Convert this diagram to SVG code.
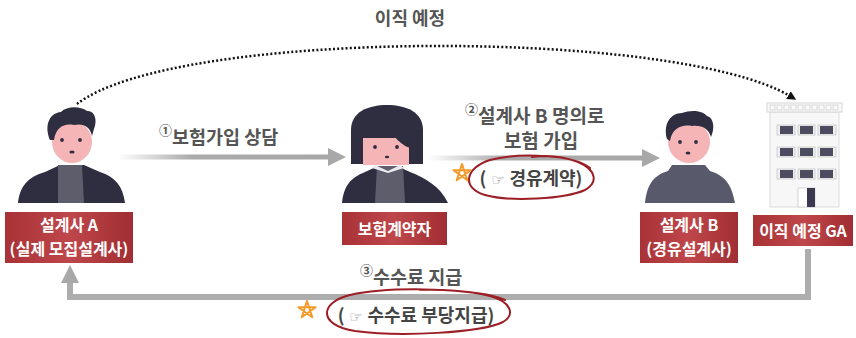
<svg xmlns="http://www.w3.org/2000/svg" width="856" height="338" viewBox="0 0 856 338">
  <style>
    .lbl { font-family: "Noto Sans CJK KR", "Noto Sans", sans-serif; font-weight: bold; fill: #555; }
    .box-t { font-family: "Noto Sans CJK KR", "Noto Sans", sans-serif; font-weight: bold; fill: #fff; font-size: 16px; text-anchor: middle; }
    .note { font-family: "Noto Sans CJK KR", "Noto Sans", sans-serif; font-weight: bold; fill: #444; font-size: 18px; text-anchor: middle; }
    .hand { font-family: "DejaVu Sans", sans-serif; font-weight: normal; fill: #888; font-size: 15px; }
    .num { font-size: 13px; }
    .dark { fill: #2f2e41; }
    .skin { fill: #f5b5b7; }
    .shirt { fill: #5e5d6c; }
    .ring { fill: none; stroke: #9c1f26; stroke-width: 2; stroke-linecap: round; }
    .star { fill: none; stroke: #f39a2a; stroke-width: 2; stroke-linejoin: round; }
    .flow { fill: none; stroke-width: 5; }
    .back { fill: none; stroke: #adadad; stroke-width: 6; stroke-linejoin: miter; }
  </style>
  <defs>
    <linearGradient id="boxFill" x1="0" y1="0" x2="1" y2="0">
      <stop offset="0" stop-color="#a83236"/>
      <stop offset="0.5" stop-color="#bf474b"/>
      <stop offset="1" stop-color="#a02e32"/>
    </linearGradient>
    <linearGradient id="fade1" gradientUnits="userSpaceOnUse" x1="118" y1="0" x2="330" y2="0">
      <stop offset="0" stop-color="#ffffff"/>
      <stop offset="0.35" stop-color="#aaaaaa"/>
      <stop offset="1" stop-color="#a8a8a8"/>
    </linearGradient>
    <linearGradient id="fade2" gradientUnits="userSpaceOnUse" x1="428" y1="0" x2="644" y2="0">
      <stop offset="0" stop-color="#ffffff"/>
      <stop offset="0.35" stop-color="#aaaaaa"/>
      <stop offset="1" stop-color="#a8a8a8"/>
    </linearGradient>
    <marker id="greyHead" viewBox="0 0 10 10" refX="0" refY="5" markerUnits="userSpaceOnUse" markerWidth="18" markerHeight="18" orient="auto">
      <path d="M0,0 L10,5 L0,10 Z" fill="#a8a8a8"/>
    </marker>
    <marker id="dotHead" viewBox="0 0 10 10" refX="2" refY="5" markerUnits="userSpaceOnUse" markerWidth="9" markerHeight="9" orient="auto">
      <path d="M0,0 L10,5 L0,10 Z" fill="#111"/>
    </marker>
  </defs>

  <rect width="856" height="338" fill="#ffffff"/>

  <!-- connectors -->
  <g id="connectors">
    <path d="M77,104 C175,28 675,28 790,96" fill="none" stroke="#111" stroke-width="2.5" stroke-dasharray="2 2.2" marker-end="url(#dotHead)"/>
    <line class="flow" x1="118" y1="157" x2="328" y2="157" stroke="url(#fade1)" marker-end="url(#greyHead)"/>
    <line class="flow" x1="428" y1="158" x2="642" y2="158" stroke="url(#fade2)" marker-end="url(#greyHead)"/>
    <polyline class="back" points="808,249 808,297 70,297 70,283" marker-end="url(#greyHead)"/>
  </g>

  <!-- connector labels -->
  <g id="labels">
    <text class="lbl" x="410" y="25" font-size="18" text-anchor="middle" fill="#666">이직 예정</text>
    <text class="lbl" x="159" y="144" font-size="18.5"><tspan class="num" dy="-9">①</tspan><tspan dy="9">보험가입 상담</tspan></text>
    <text class="lbl" x="465" y="123" font-size="19"><tspan class="num" dy="-9">②</tspan><tspan dy="9">설계사 B 명의로</tspan></text>
    <text class="lbl" x="541" y="148" font-size="19" text-anchor="middle">보험 가입</text>
    <text class="lbl" x="360" y="284" font-size="18.5"><tspan class="num" dy="-9">③</tspan><tspan dy="9">수수료 지급</tspan></text>
  </g>

  <!-- circled remarks -->
  <g id="note-detour">
    <path class="ring" d="M590,168 C575,155 520,152 490,160 C465,168 461,188 485,195 C510,202 565,199 585,190 C598,183 597,170 578,162 C562,156 545,155 532,157"/>
    <path class="star" d="M462,164 L467.3,180.3 L453.4,170.2 L470.6,170.2 L456.7,180.3 Z"/>
    <text class="note" x="531" y="185">(<tspan class="hand"> ☞ </tspan>경유계약)</text>
  </g>
  <g id="note-fee">
    <path class="ring" d="M505,300 C480,288 390,286 350,295 C320,302 317,325 355,331 C400,337 480,333 503,322 C515,315 512,302 490,296 C470,291 440,289 420,290"/>
    <path class="star" d="M307,301 L312.3,317.3 L298.4,307.2 L315.6,307.2 L301.7,317.3 Z"/>
    <text class="note" x="416" y="322">(<tspan class="hand"> ☞ </tspan>수수료 부당지급)</text>
  </g>

  <!-- recruiting planner A -->
  <g id="planner-a">
    <path class="dark" d="M18,203 C20,186 28,177 45,172 L60,165 L84,165 L100,172 C115,177 123,186 125,203 Z"/>
    <path class="shirt" d="M58,165 L82,165 L84,203 L58,203 Z"/>
    <ellipse class="skin" cx="72" cy="142" rx="20" ry="21"/>
    <path class="dark" d="M50,140 C44,126 49,113 61,112 C67,106 80,106 87,111 C94,110 98,119 94,129 L92,136 C90,127 84,123 74,125 C64,123 56,127 54,140 Z"/>
    <circle class="dark" cx="62" cy="140" r="1.9"/>
    <circle class="dark" cx="80" cy="140" r="1.9"/>
    <ellipse class="dark" cx="72" cy="152" rx="2.6" ry="1.6"/>
    <rect x="5" y="212" width="128" height="51" fill="url(#boxFill)"/>
    <text class="box-t" x="69" y="231">설계사 A</text>
    <text class="box-t" x="69" y="255">(실제 모집설계사)</text>
  </g>

  <!-- policyholder -->
  <g id="policyholder">
    <path class="dark" d="M351,164 L351,130 C351,112 368,105 387,105 C406,105 423,112 423,130 L423,164 Z"/>
    <path class="skin" d="M363,165 L363,138 L409,138 L409,165 Z"/>
    <path class="dark" d="M394,136 C399,142 404,146 410,148 L410,136 Z"/>
    <path class="dark" d="M342,203 C344,186 350,178 365,172 L378,166 L397,166 L410,172 C425,178 440,186 448,203 Z"/>
    <path class="shirt" d="M377,166 L403,166 L405,203 L375,203 Z"/>
    <path d="M375,165 L388,171 L400,165 L404,168 L388,173 L372,168 Z" fill="#e9e9ee"/>
    <circle class="dark" cx="375" cy="147" r="1.9"/>
    <circle class="dark" cx="397" cy="147" r="1.9"/>
    <ellipse class="dark" cx="387" cy="157" rx="2.2" ry="1.3"/>
    <rect x="342" y="212" width="105" height="33" fill="url(#boxFill)"/>
    <text class="box-t" x="394.5" y="234.5">보험계약자</text>
  </g>

  <!-- intermediary planner B -->
  <g id="planner-b">
    <path d="M645,203 C647,186 652,176 668,171 L672,165 L705,165 L710,171 C726,176 732,186 735,203 Z" fill="#585a6b"/>
    <ellipse class="skin" cx="689" cy="142" rx="21" ry="21"/>
    <path class="dark" d="M667,139 C663,125 670,113 682,113 C690,110 702,110 707,116 C714,118 715,128 711,137 C708,128 702,125 692,126 C682,124 672,128 670,141 Z"/>
    <circle class="dark" cx="680" cy="142" r="1.9"/>
    <circle class="dark" cx="696" cy="142" r="1.9"/>
    <ellipse class="dark" cx="688" cy="153" rx="2.4" ry="1.5"/>
    <rect x="640" y="212" width="98" height="51" fill="url(#boxFill)"/>
    <text class="box-t" x="689" y="231">설계사 B</text>
    <text class="box-t" x="689" y="255">(경유설계사)</text>
  </g>

  <!-- target GA office -->
  <g id="target-ga">
    <rect x="770" y="112" width="69" height="95" fill="#f7f7f7" stroke="#dcdcdc" stroke-width="1"/>
    <rect x="767" y="103" width="75" height="9" fill="#fafafa" stroke="#d6d6d6" stroke-width="1"/>
    <g fill="none" stroke="#cfcfcf" stroke-width="0.8">
      <rect x="770" y="105" width="5" height="5"/><rect x="777" y="105" width="5" height="5"/>
      <rect x="784" y="105" width="5" height="5"/><rect x="791" y="105" width="5" height="5"/>
      <rect x="798" y="105" width="5" height="5"/><rect x="805" y="105" width="5" height="5"/>
      <rect x="812" y="105" width="5" height="5"/><rect x="819" y="105" width="5" height="5"/>
      <rect x="826" y="105" width="5" height="5"/><rect x="833" y="105" width="5" height="5"/>
    </g>
    <g stroke="#c8c8c8" stroke-width="0.8" fill="#efefef">
      <rect x="777" y="125" width="18" height="10"/><rect x="798" y="125" width="17" height="10"/><rect x="818" y="125" width="18" height="10"/>
      <rect x="777" y="147" width="18" height="10"/><rect x="798" y="147" width="17" height="10"/><rect x="818" y="147" width="18" height="10"/>
      <rect x="777" y="169" width="18" height="10"/><rect x="798" y="169" width="17" height="10"/><rect x="818" y="169" width="18" height="10"/>
    </g>
    <g fill="#4c4b60">
      <rect x="780" y="126" width="13" height="8"/><rect x="800" y="126" width="13" height="8"/><rect x="820" y="126" width="13" height="8"/>
      <rect x="780" y="148" width="13" height="8"/><rect x="800" y="148" width="13" height="8"/><rect x="820" y="148" width="13" height="8"/>
      <rect x="780" y="170" width="13" height="8"/><rect x="800" y="170" width="13" height="8"/><rect x="820" y="170" width="13" height="8"/>
    </g>
    <rect x="798" y="188" width="17" height="19" fill="#ffffff" stroke="#cccccc" stroke-width="0.8"/>
    <rect x="807" y="188" width="8" height="19" fill="#3a3950"/>
    <rect x="753" y="215" width="100" height="31" fill="url(#boxFill)"/>
    <text class="box-t" x="803" y="236.5">이직 예정 GA</text>
  </g>
</svg>
